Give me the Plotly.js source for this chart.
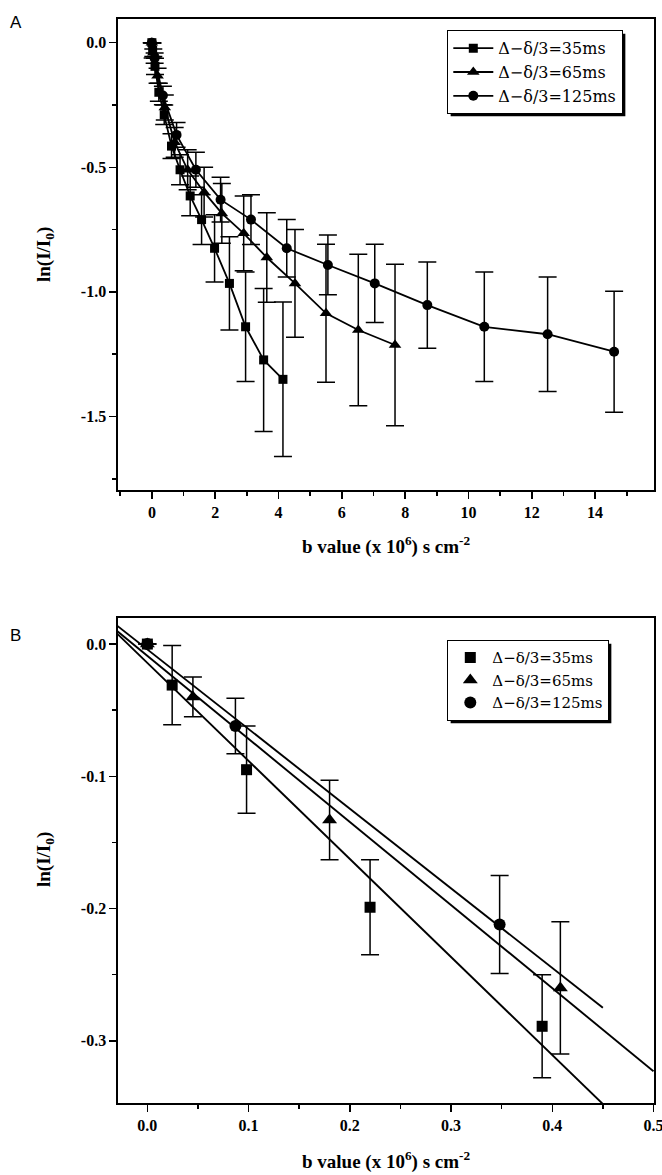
<!DOCTYPE html>
<html>
<head>
<meta charset="utf-8">
<script src="https://cdn.plot.ly/plotly-3.0.1.min.js"></script>
<style>html,body{margin:0;padding:0;background:#fff;}#chart{width:662px;height:1175px;}</style>
</head>
<body>
<div id="chart"></div>
<script>
// ---- data (b value x10^6 s cm^-2, ln(I/I0), error) ----
const seriesNames = ["\u0394\u2212\u03b4/3=35ms", "\u0394\u2212\u03b4/3=65ms", "\u0394\u2212\u03b4/3=125ms"];

const b35   = [0, 0.0245, 0.098, 0.22, 0.39, 0.62, 0.89, 1.21, 1.57, 1.98, 2.45, 2.96, 3.53, 4.14];
const ln35  = [0, -0.031, -0.095, -0.199, -0.289, -0.415, -0.51, -0.615, -0.71, -0.825, -0.966, -1.14, -1.273, -1.351];
const err35 = [0, 0.03, 0.033, 0.036, 0.039, 0.05, 0.06, 0.08, 0.10, 0.135, 0.187, 0.22, 0.287, 0.31];

const b65   = [0, 0.045, 0.18, 0.408, 0.72, 1.13, 1.65, 2.21, 2.9, 3.63, 4.52, 5.5, 6.52, 7.68];
const ln65  = [0, -0.04, -0.133, -0.26, -0.40, -0.51, -0.60, -0.685, -0.765, -0.862, -0.966, -1.086, -1.153, -1.213];
const err65 = [0, 0.015, 0.03, 0.05, 0.06, 0.08, 0.10, 0.12, 0.15, 0.18, 0.216, 0.277, 0.304, 0.324];

const b125   = [0, 0.087, 0.348, 0.78, 1.39, 2.17, 3.13, 4.26, 5.56, 7.04, 8.7, 10.5, 12.5, 14.6];
const ln125  = [0, -0.062, -0.212, -0.37, -0.51, -0.63, -0.71, -0.825, -0.892, -0.966, -1.053, -1.14, -1.17, -1.24];
const err125 = [0, 0.021, 0.037, 0.05, 0.07, 0.09, 0.10, 0.115, 0.12, 0.157, 0.173, 0.22, 0.23, 0.243];

// panel B: low-b points (first points of each series) and linear fit end points
const nB35 = 5, nB65 = 4, nB125 = 3;
const fitX35  = [-0.03, 0.453], fitY35  = [0.008, -0.35];
const fitX65  = [-0.03, 0.5],   fitY65  = [0.010, -0.323];
const fitX125 = [-0.03, 0.45],  fitY125 = [0.014, -0.275];

// tick labels
const tickValsAx = [0, 2, 4, 6, 8, 10, 12, 14];
const tickTextAx = ["0", "2", "4", "6", "8", "10", "12", "14"];
const tickValsAy = [0, -0.5, -1.0, -1.5];
const tickTextAy = ["0.0", "-0.5", "-1.0", "-1.5"];
const tickValsBx = [0, 0.1, 0.2, 0.3, 0.4, 0.5];
const tickTextBx = ["0.0", "0.1", "0.2", "0.3", "0.4", "0.5"];
const tickValsBy = [0, -0.1, -0.2, -0.3];
const tickTextBy = ["0.0", "-0.1", "-0.2", "-0.3"];

// ---- styling ----
const SERIF = "Liberation Serif, Times New Roman, serif";
const LEGSERIF = "DejaVu Serif, Liberation Serif, serif";
const symbols = ["square", "triangle-up", "circle"];
const sizesA = [9, 11, 10];
const sizesB = [11, 13, 12];
const bold = arr => arr.map(t => "<b>" + t + "</b>");

function errBar(arr) {
  return {type: "data", array: arr, visible: true, color: "#000", thickness: 1.5, width: 9};
}

const dataA = [[b35, ln35, err35], [b65, ln65, err65], [b125, ln125, err125]];
const traces = [];
dataA.forEach((d, i) => {
  traces.push({
    x: d[0], y: d[1], error_y: errBar(d[2]),
    mode: "lines+markers", name: seriesNames[i],
    line: {color: "#000", width: 1.8},
    marker: {symbol: symbols[i], size: sizesA[i], color: "#000"},
    xaxis: "x", yaxis: "y", legend: "legend"
  });
});
const nB = [nB35, nB65, nB125];
dataA.forEach((d, i) => {
  traces.push({
    x: d[0].slice(0, nB[i]), y: d[1].slice(0, nB[i]), error_y: errBar(d[2].slice(0, nB[i])),
    mode: "markers", name: seriesNames[i],
    marker: {symbol: symbols[i], size: sizesB[i], color: "#000"},
    xaxis: "x2", yaxis: "y2", legend: "legend2"
  });
});
[[fitX35, fitY35], [fitX65, fitY65], [fitX125, fitY125]].forEach(f => {
  traces.push({
    x: f[0], y: f[1], mode: "lines", showlegend: false,
    line: {color: "#000", width: 1.9},
    xaxis: "x2", yaxis: "y2", hoverinfo: "skip"
  });
});

const W = 662, H = 1175;
const px = v => v / W;
const py = v => 1 - v / H;

function axisBase(extra) {
  return Object.assign({
    showline: true, mirror: true, linecolor: "#000", linewidth: 1.6,
    ticks: "outside", ticklen: 7, tickwidth: 1.5, tickcolor: "#000",
    showgrid: false, zeroline: false, tickmode: "array",
    tickfont: {family: SERIF, size: 16, color: "#000"},
    fixedrange: true
  }, extra);
}
function minor(d) {
  return {tickmode: "linear", tick0: 0, dtick: d, ticks: "outside", ticklen: 4, tickwidth: 1.5, tickcolor: "#000", showgrid: false};
}

const titleFont = {family: SERIF, size: 19, color: "#000"};

const layout = {
  width: W, height: H,
  margin: {l: 0, r: 0, t: 0, b: 0},
  paper_bgcolor: "#fff", plot_bgcolor: "#fff",
  showlegend: true,
  xaxis: axisBase({domain: [px(118), px(654)], range: [-1.07, 15.86], anchor: "y",
    tickvals: tickValsAx, ticktext: bold(tickTextAx), minor: minor(1)}),
  yaxis: axisBase({domain: [py(490), py(19)], range: [-1.795, 0.095], anchor: "x",
    tickvals: tickValsAy, ticktext: bold(tickTextAy), minor: minor(0.25)}),
  xaxis2: axisBase({domain: [px(118), px(654)], range: [-0.029, 0.5005], anchor: "y2",
    tickvals: tickValsBx, ticktext: bold(tickTextBx), minor: minor(0.05), ticklabeloverflow: "allow"}),
  yaxis2: axisBase({domain: [py(1103), py(618)], range: [-0.347, 0.0197], anchor: "x2",
    tickvals: tickValsBy, ticktext: bold(tickTextBy), minor: minor(0.05)}),
  legend: {x: px(447), y: py(30), xanchor: "left", yanchor: "top",
    bgcolor: "#fff", bordercolor: "#000", borderwidth: 1.3, itemwidth: 40,
    font: {family: LEGSERIF, size: 16, color: "#000"}, tracegroupgap: 0},
  legend2: {x: px(447), y: py(640), xanchor: "left", yanchor: "top",
    bgcolor: "#fff", bordercolor: "#000", borderwidth: 1.3, itemwidth: 34,
    font: {family: LEGSERIF, size: 15, color: "#000"}, tracegroupgap: 0},
  annotations: [
    {text: "A", xref: "paper", yref: "paper", x: px(8), y: py(22), xanchor: "left", yanchor: "middle",
      showarrow: false, font: {family: "Liberation Sans, Arial, sans-serif", size: 17, color: "#000"}},
    {text: "B", xref: "paper", yref: "paper", x: px(8), y: py(635), xanchor: "left", yanchor: "middle",
      showarrow: false, font: {family: "Liberation Sans, Arial, sans-serif", size: 17, color: "#000"}},
    {text: "<b>b value (x 10<sup>6</sup>) s cm<sup>-2</sup></b>", xref: "paper", yref: "paper", x: px(386), y: py(545),
      xanchor: "center", yanchor: "middle", showarrow: false, font: titleFont},
    {text: "<b>b value (x 10<sup>6</sup>) s cm<sup>-2</sup></b>", xref: "paper", yref: "paper", x: px(386), y: py(1160),
      xanchor: "center", yanchor: "middle", showarrow: false, font: titleFont},
    {text: "<b>ln(I/I<sub>0</sub>)</b>", xref: "paper", yref: "paper", x: px(45), y: py(255), textangle: -90,
      xanchor: "center", yanchor: "middle", showarrow: false, font: titleFont},
    {text: "<b>ln(I/I<sub>0</sub>)</b>", xref: "paper", yref: "paper", x: px(45), y: py(860), textangle: -90,
      xanchor: "center", yanchor: "middle", showarrow: false, font: titleFont}
  ]
};

Plotly.newPlot("chart", traces, layout, {staticPlot: true, displayModeBar: false}).then(gd => {
  // drop shadow behind each legend box (right and bottom), sized from the drawn legend
  const gr = gd.getBoundingClientRect();
  const shapes = [];
  ["legend", "legend2"].forEach(name => {
    const g = gd.querySelector("g." + name);
    if (!g) return;
    const bg = g.querySelector("rect.bg");
    if (!bg) return;
    const r = bg.getBoundingClientRect();
    const off = 3;
    shapes.push({type: "rect", xref: "paper", yref: "paper", layer: "above",
      x0: (r.left - gr.left + off) / W, x1: (r.right - gr.left + off) / W,
      y0: 1 - (r.bottom - gr.top + off) / H, y1: 1 - (r.top - gr.top + off) / H,
      fillcolor: "#000", line: {width: 0}});
  });
  return Plotly.relayout(gd, {shapes: shapes});
});
</script>
</body>
</html>
